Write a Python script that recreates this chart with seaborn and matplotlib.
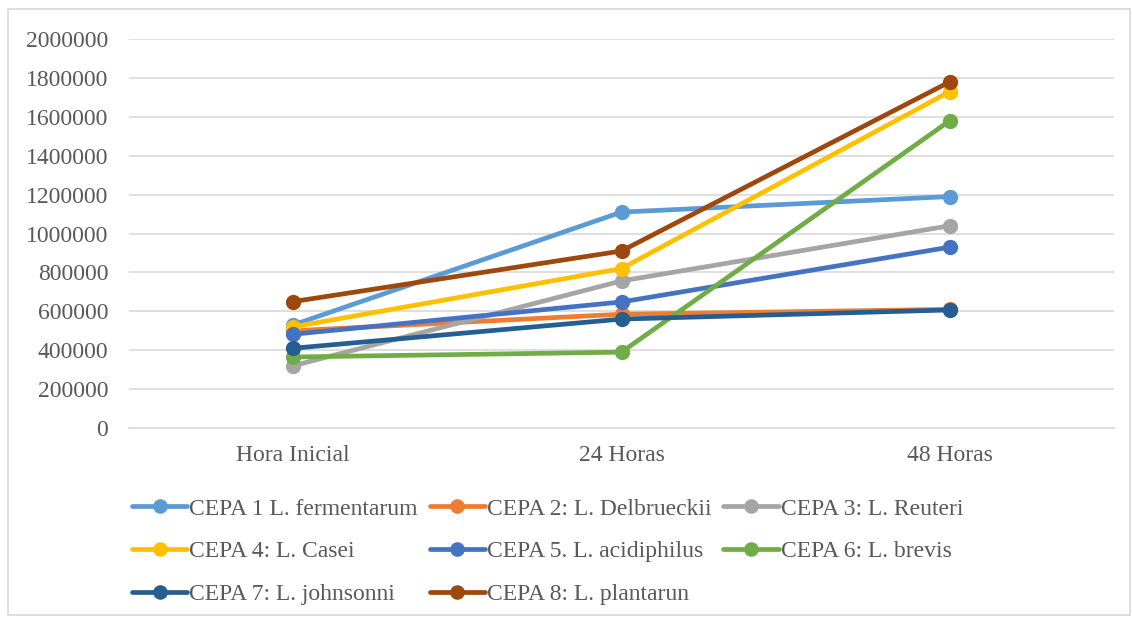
import matplotlib
matplotlib.use("Agg")
import matplotlib.pyplot as plt
import seaborn as sns
import pandas as pd
from matplotlib.lines import Line2D
from matplotlib.patches import Rectangle

# Sampling times
tiempos = ["Hora Inicial", "24 Horas", "48 Horas"]

# Strain names
cepas = [
    "CEPA 1 L. fermentarum",
    "CEPA 2: L. Delbrueckii",
    "CEPA 3: L. Reuteri",
    "CEPA 4: L. Casei",
    "CEPA 5. L. acidiphilus",
    "CEPA 6: L. brevis",
    "CEPA 7: L. johnsonni",
    "CEPA 8: L. plantarun",
]

# Counts for each strain at each sampling time
cepa1 = [530000, 1110000, 1190000]
cepa2 = [500000, 585000, 610000]
cepa3 = [320000, 756000, 1040000]
cepa4 = [520000, 820000, 1730000]
cepa5 = [482000, 648000, 930000]
cepa6 = [365000, 390000, 1580000]
cepa7 = [410000, 560000, 607000]
cepa8 = [650000, 910000, 1780000]

colores = ["#5B9BD5", "#ED7D31", "#A5A5A5", "#FFC000",
           "#4472C4", "#70AD47", "#255E91", "#9E480E"]

yticks = [0, 200000, 400000, 600000, 800000, 1000000,
          1200000, 1400000, 1600000, 1800000, 2000000]

series = [cepa1, cepa2, cepa3, cepa4, cepa5, cepa6, cepa7, cepa8]
rows = []
for nombre, vals in zip(cepas, series):
    for i, (t, v) in enumerate(zip(tiempos, vals)):
        rows.append({"cepa": nombre, "pos": i, "tiempo": t, "valor": v})
df = pd.DataFrame(rows)

sns.set_theme(style="white")
plt.rcParams["font.family"] = ["Liberation Serif", "DejaVu Serif"]

fig = plt.figure(figsize=(11.32, 6.19), dpi=100)
ax = fig.add_axes([129 / 1132, 1 - 428 / 619, (1114 - 129) / 1132, (428 - 39) / 619])

sns.lineplot(data=df, x="pos", y="valor", hue="cepa", hue_order=cepas,
             palette=colores, marker="o", markersize=11, markeredgewidth=0,
             linewidth=3.4, ax=ax, legend=False, sort=False)

ax.set_xlim(-0.5, 2.5)
ax.set_ylim(0, 2000000)
ax.set_xticks(range(len(tiempos)))
ax.set_xticklabels(tiempos)
ax.set_yticks(yticks)
ax.set_yticklabels([str(v) for v in yticks])
ax.set_xlabel("")
ax.set_ylabel("")
ax.grid(axis="y", color="#D9D9D9", linewidth=1.2)
ax.set_axisbelow(True)
for s in ["top", "right", "left"]:
    ax.spines[s].set_visible(False)
ax.spines["bottom"].set_color("#D9D9D9")
ax.spines["bottom"].set_linewidth(1.2)
ax.tick_params(axis="both", length=0, labelsize=17, colors="#595959")
ax.tick_params(axis="y", pad=15)
ax.tick_params(axis="x", pad=12)

# Legend filled row by row (matplotlib fills columns first)
orden = [0, 3, 6, 1, 4, 7, 2, 5]
handles = [Line2D([0], [0], color=colores[i], lw=3.4, marker="o", markersize=10.5,
                  markeredgewidth=0) for i in orden]
labels = [cepas[i] for i in orden]
fig.legend(handles, labels, loc="upper left", bbox_to_anchor=(132 / 1132, 1 - 498 / 619),
           ncol=3, frameon=False, fontsize=17, handlelength=2.35, handletextpad=0.08,
           columnspacing=0.5, labelspacing=0.9, labelcolor="#595959",
           borderaxespad=0, borderpad=0)

# Chart border
fig.patches.append(Rectangle((8 / 1132, 4 / 619), 1122 / 1132, 606 / 619,
                             transform=fig.transFigure, fill=False,
                             edgecolor="#D9D9D9", linewidth=1.2))

fig.savefig("out.png", dpi=100)
